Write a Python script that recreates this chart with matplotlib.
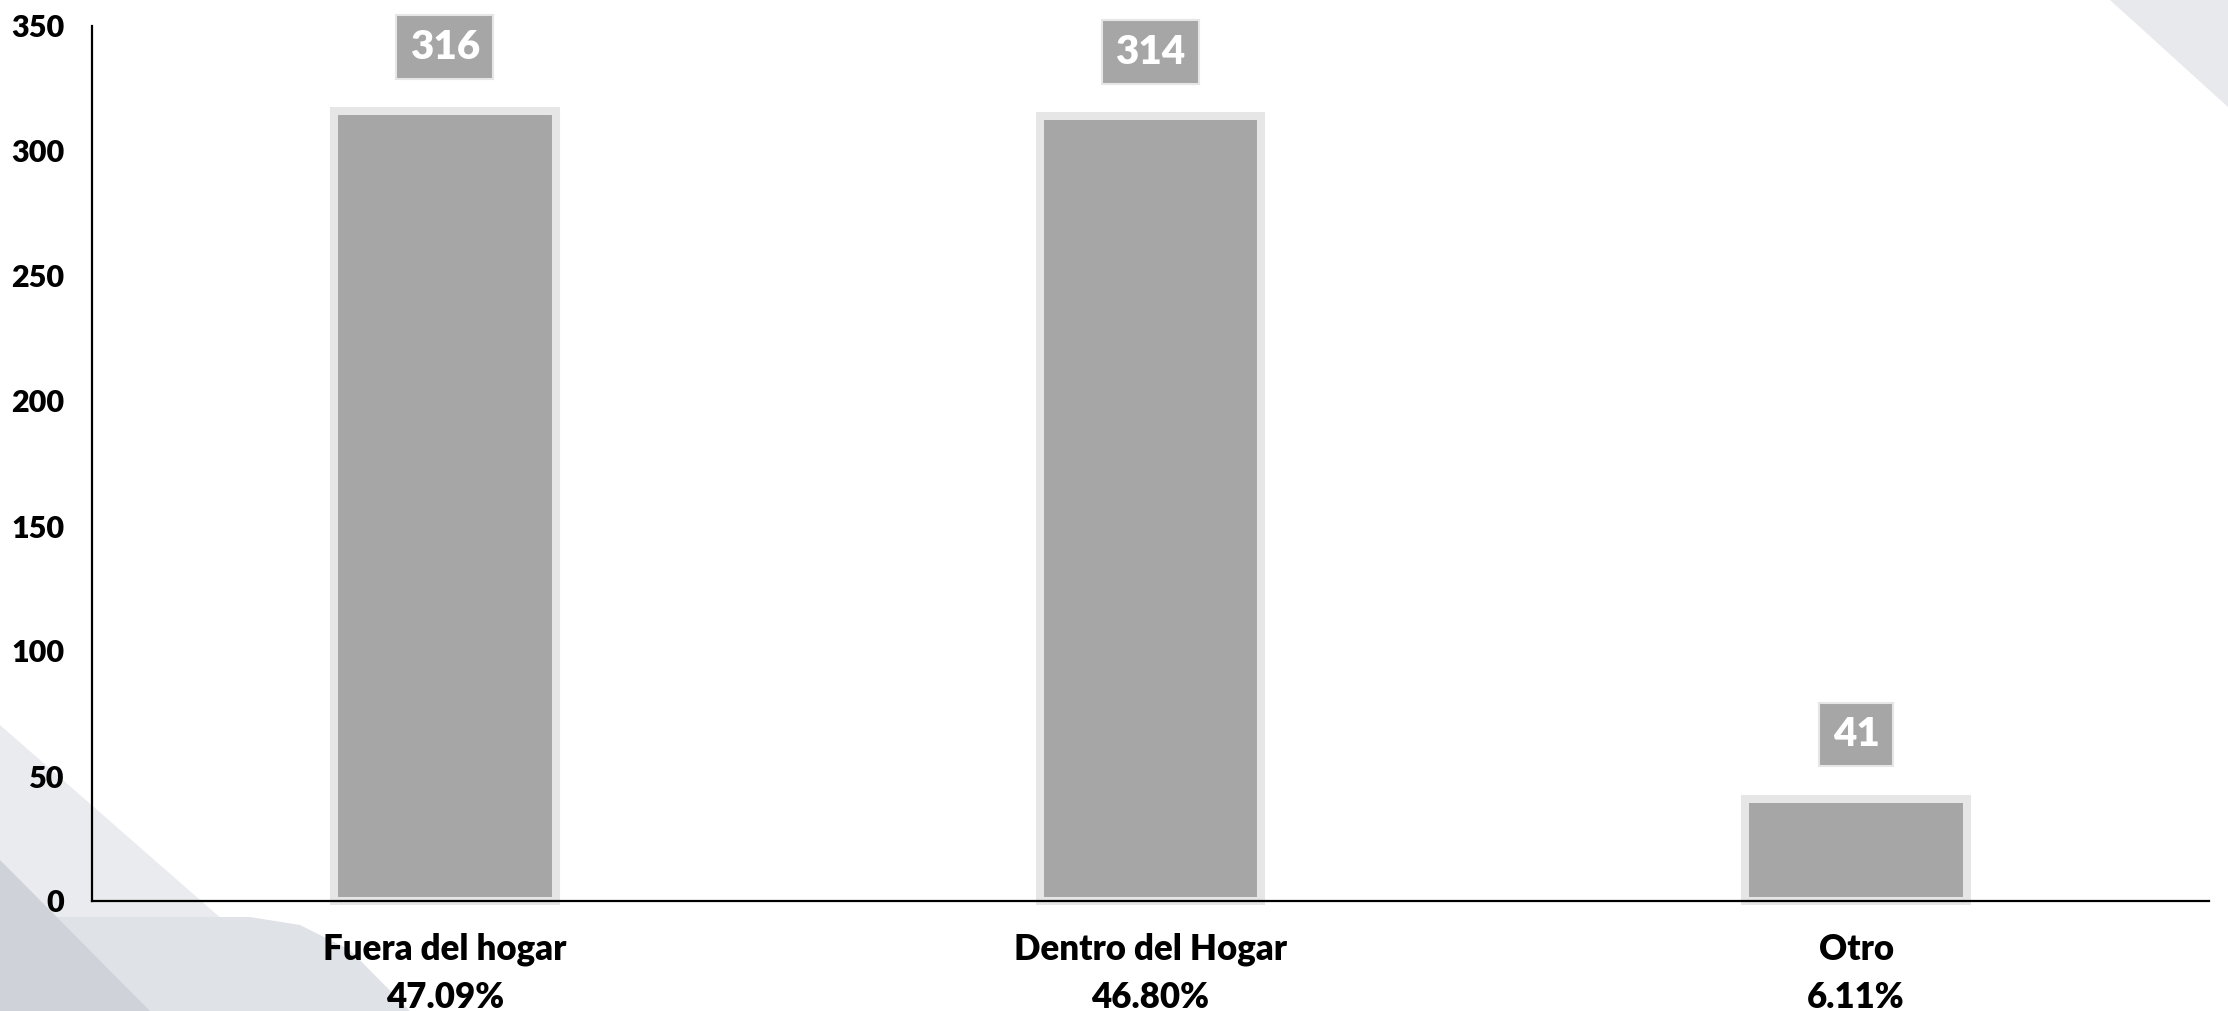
import matplotlib.pyplot as plt
from matplotlib.patches import Polygon
import numpy as np

categorias = ["Fuera del hogar", "Dentro del Hogar", "Otro"]
porcentajes = ["47.09%", "46.80%", "6.11%"]
valores = [316, 314, 41]
yticks = [0, 50, 100, 150, 200, 250, 300, 350]

W, H = 2228, 1011
fig = plt.figure(figsize=(W / 100, H / 100), dpi=100)
plt.rcParams['font.family'] = ['Lato', 'DejaVu Sans']


def px(x, y):
    # pixel (desde arriba a la izquierda) -> fraccion de figura
    return (x / W, 1 - y / H)


# decoracion de fondo
fondo = [
    ([(0, 725), (327, 1011), (0, 1011)], '#e9ebee'),
    ([(0, 917), (250, 917), (300, 925), (350, 950), (410, 1011), (0, 1011)], '#dfe2e6'),
    ([(0, 860), (150, 1011), (0, 1011)], '#cfd3d9'),
    ([(2110, 0), (2228, 0), (2228, 107)], '#e8e9ec'),
]
for pts, c in fondo:
    fig.patches.append(Polygon([px(*p) for p in pts], closed=True, transform=fig.transFigure,
                               facecolor=c, edgecolor='none', zorder=-10))

ax = fig.add_axes([92 / W, 1 - 901 / H, (2209 - 92) / W, (901 - 26) / H])
ax.patch.set_alpha(0)

x = np.arange(len(categorias))
ax.bar(x, valores, width=0.3145, color='#a6a6a6', edgecolor='#e6e6e6', linewidth=5.8,
       clip_on=False, zorder=2)

for xi, v in zip(x, valores):
    ax.annotate(str(v), (xi, v), xytext=(0, 46), textcoords='offset points',
                ha='center', va='center', fontsize=29, fontweight='heavy', color='white',
                bbox=dict(boxstyle='square,pad=0.33', fc='#a6a6a6', ec='#e6e6e6', lw=1.5))

ax.set_xlim(-0.5, 2.5)
ax.set_ylim(0, 350)
ax.set_yticks(yticks)
ax.set_yticklabels([str(t) for t in yticks], fontsize=22, fontweight='heavy')
ax.set_xticks(x)
ax.set_xticklabels([f"{c}\n{p}" for c, p in zip(categorias, porcentajes)],
                   fontsize=25, fontweight='heavy', linespacing=1.55)
ax.tick_params(axis='y', length=0, pad=20)
ax.tick_params(axis='x', length=0, pad=23)
for s in ['top', 'right']:
    ax.spines[s].set_visible(False)
for s in ['left', 'bottom']:
    ax.spines[s].set_linewidth(1.6)
    ax.spines[s].set_color('#000000')
ax.spines['left'].set_bounds(0, 350)

plt.savefig("out.png", dpi=100)
